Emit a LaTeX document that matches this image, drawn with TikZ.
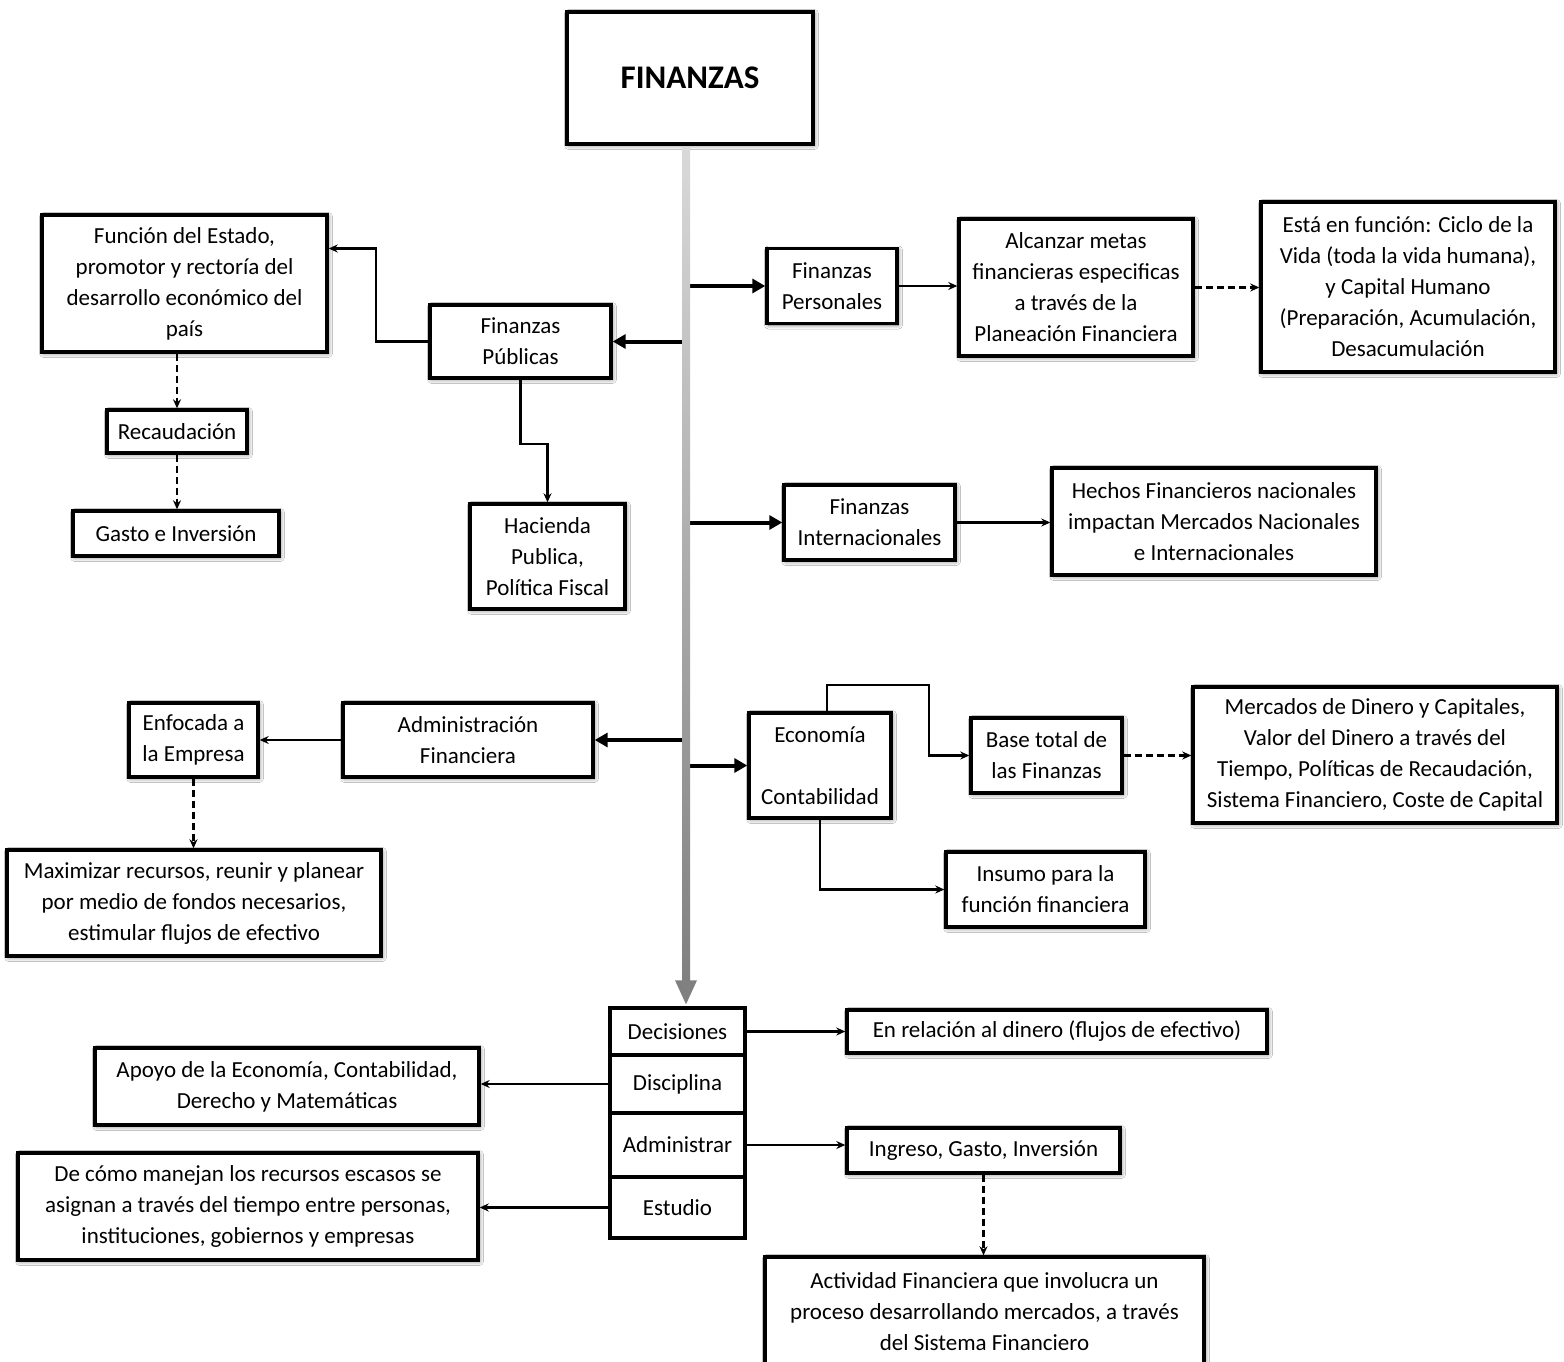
\documentclass[tikz,border=0pt]{standalone}
\usepackage{fontspec}
\setmainfont{Carlito}
\usepackage{tikz}
\usetikzlibrary{arrows.meta,calc,fit,backgrounds,shadows,shadows.blur}

\tikzset{
  sombra/.style={blur shadow={shadow blur steps=6,shadow xshift=1.5pt,shadow yshift=-1.5pt,shadow blur radius=4pt,shadow opacity=55}},
  celda/.style={draw,line width=3.4pt,fill=white,align=center,inner sep=3pt},
  caja/.style={celda,sombra},
  flecha/.style={line width=2.2pt,-{Stealth[length=9pt,width=8pt]}},
  punteada/.style={flecha,dash pattern=on 7pt off 4pt},
  gruesa/.style={line width=4pt,-{Triangle[length=13pt,width=14pt]}}
}

\begin{document}
\begin{tikzpicture}[x=1pt,y=-1pt,font=\fontsize{23}{31}\selectfont]
\fill[white] (0,0) rectangle (1564,1362);
\useasboundingbox (0,0) rectangle (1564,1362);

%titulo
\node[caja,line width=4pt,minimum width=246pt,minimum height=132pt,font=\fontsize{33}{40}\selectfont\bfseries] (fin) at (690,78) {FINANZAS};
\coordinate (eje) at (686,150);

% finanzas publicas
\node[caja,minimum width=285pt,minimum height=137pt] (estado) at (184.5,283.5) {Función del Estado,\\promotor y rectoría del\\desarrollo económico del\\país};
\node[caja,minimum width=181pt,minimum height=73pt] (pub) at (520.5,341.5) {Finanzas\\Públicas};
\node[caja,minimum width=140pt,minimum height=43pt] (rec) at (177,431.5) {Recaudación};
\node[caja,minimum width=206pt,minimum height=45pt] (gasto) at (176,533.5) {Gasto e Inversión};
\node[caja,minimum width=155pt,minimum height=105pt] (hac) at (547.5,556.5) {Hacienda\\Publica,\\Política Fiscal};

% finanzas personales
\node[caja,minimum width=130pt,minimum height=75pt] (per) at (832,286) {Finanzas\\Personales};
\node[caja,minimum width=234pt,minimum height=137pt] (metas) at (1076,287.5) {Alcanzar metas\\financieras especificas\\a través de la\\Planeación Financiera};
\node[caja,minimum width=294pt,minimum height=170pt] (ciclo) at (1408,287) {Está en función: Ciclo de la\\Vida (toda la vida humana),\\y Capital Humano\\(Preparación, Acumulación,\\Desacumulación};

% finanzas internacionales
\node[caja,minimum width=171pt,minimum height=75pt] (int) at (869.5,522.5) {Finanzas\\Internacionales};
\node[caja,minimum width=324pt,minimum height=107pt] (hechos) at (1214,521.5) {Hechos Financieros nacionales\\impactan Mercados Nacionales\\e Internacionales};

% administracion financiera
\node[caja,minimum width=129pt,minimum height=74pt] (emp) at (193.5,740) {Enfocada a\\la Empresa};
\node[caja,minimum width=250pt,minimum height=74pt] (admfin) at (468,740) {Administración\\Financiera};
\node[caja,minimum width=374pt,minimum height=106pt] (max) at (194,903) {Maximizar recursos, reunir y planear\\por medio de fondos necesarios,\\estimular flujos de efectivo};

% economia y contabilidad
\node[caja,minimum width=142pt,minimum height=105pt] (eco) at (820,765.5) {Economía\\[31pt]Contabilidad};
\node[caja,minimum width=151pt,minimum height=75pt] (base) at (1046.5,755.5) {Base total de\\las Finanzas};
\node[caja,minimum width=364pt,minimum height=136pt] (merc) at (1375,755) {Mercados de Dinero y Capitales,\\Valor del Dinero a través del\\Tiempo, Políticas de Recaudación,\\Sistema Financiero, Coste de Capital};
\node[caja,minimum width=199pt,minimum height=75pt] (ins) at (1045.5,889.5) {Insumo para la\\función financiera};

% columna final
\node[celda,minimum width=135pt,minimum height=47pt] (dec) at (677.5,1031.5) {Decisiones};
\node[celda,minimum width=135pt,minimum height=58pt] (dis) at (677.5,1084) {Disciplina};
\node[celda,minimum width=135pt,minimum height=64pt] (adm) at (677.5,1145) {Administrar};
\node[celda,minimum width=135pt,minimum height=61pt] (est) at (677.5,1207.5) {Estudio};
\begin{scope}[on background layer]
\node[fit=(dec)(est),inner sep=0pt,fill=white,sombra] (columna) {};
\end{scope}

\node[caja,minimum width=420pt,minimum height=43pt] (dinero) at (1057,1031.5) {En relación al dinero (flujos de efectivo)};
\node[caja,minimum width=384pt,minimum height=77pt] (apoyo) at (287,1086.5) {Apoyo de la Economía, Contabilidad,\\Derecho y Matemáticas};
\node[caja,minimum width=460pt,minimum height=107pt] (escasos) at (248,1206.5) {De cómo manejan los recursos escasos se\\asignan a través del tiempo entre personas,\\instituciones, gobiernos y empresas};
\node[caja,minimum width=273pt,minimum height=45pt] (ingreso) at (983.5,1150.5) {Ingreso, Gasto, Inversión};
\node[caja,minimum width=439pt,minimum height=110pt] (act) at (984.5,1312) {Actividad Financiera que involucra un\\proceso desarrollando mercados, a través\\del Sistema Financiero};

% conectores
\draw[flecha] (pub.west) -- ++(-52,0) |- ($(estado.east)+(0,-35)$);
\draw[flecha] (pub.south) -- ++(0,64) -| (hac.north);
\draw[punteada] (rec.north |- estado.south) -- (rec.north);
\draw[punteada] (rec.south) -- (rec.south |- gasto.north);
\draw[flecha] (per.east) -- (per.east -| metas.west);
\draw[punteada] (metas.east) -- (metas.east -| ciclo.west);
\draw[flecha] (int.east) -- (int.east -| hechos.west);
\draw[flecha] (admfin.west) -- (admfin.west -| emp.east);
\draw[punteada] (emp.south) -- (emp.south |- max.north);
\draw[flecha] ($(eco.north)+(7,0)$) -- ++(0,-26) -| ($(base.west)+(-40,0)$) -- (base.west);
\draw[flecha] (eco.south) |- (ins.west);
\draw[punteada] (base.east) -- (base.east -| merc.west);
\draw[flecha] (dec.east) -- (dec.east -| dinero.west);
\draw[flecha] (dis.west) -- (dis.west -| apoyo.east);
\draw[flecha] (adm.east) -- (adm.east -| ingreso.west);
\draw[flecha] (est.west) -- (est.west -| escasos.east);
\draw[punteada] (ingreso.south) -- (ingreso.south |- act.north);

% ramas gruesas
\draw[gruesa] (eje |- pub.east) -- (pub.east);
\draw[gruesa] (eje |- admfin.east) -- (admfin.east);
\draw[gruesa] (eje |- per.west) -- (per.west);
\draw[gruesa] (eje |- int.west) -- (int.west);
\draw[gruesa] (eje |- eco.west) -- (eco.west);

% eje central
\shade[top color=gray!30,bottom color=gray] ($(eje |- fin.south)+(-4,2)$) rectangle ($(eje |- dec.north)+(4,-24)$);
\fill[gray] ($(eje |- dec.north)+(-11,-26)$) -- ($(eje |- dec.north)+(11,-26)$) -- ($(eje |- dec.north)+(0,-2)$) -- cycle;
\end{tikzpicture}
\end{document}
